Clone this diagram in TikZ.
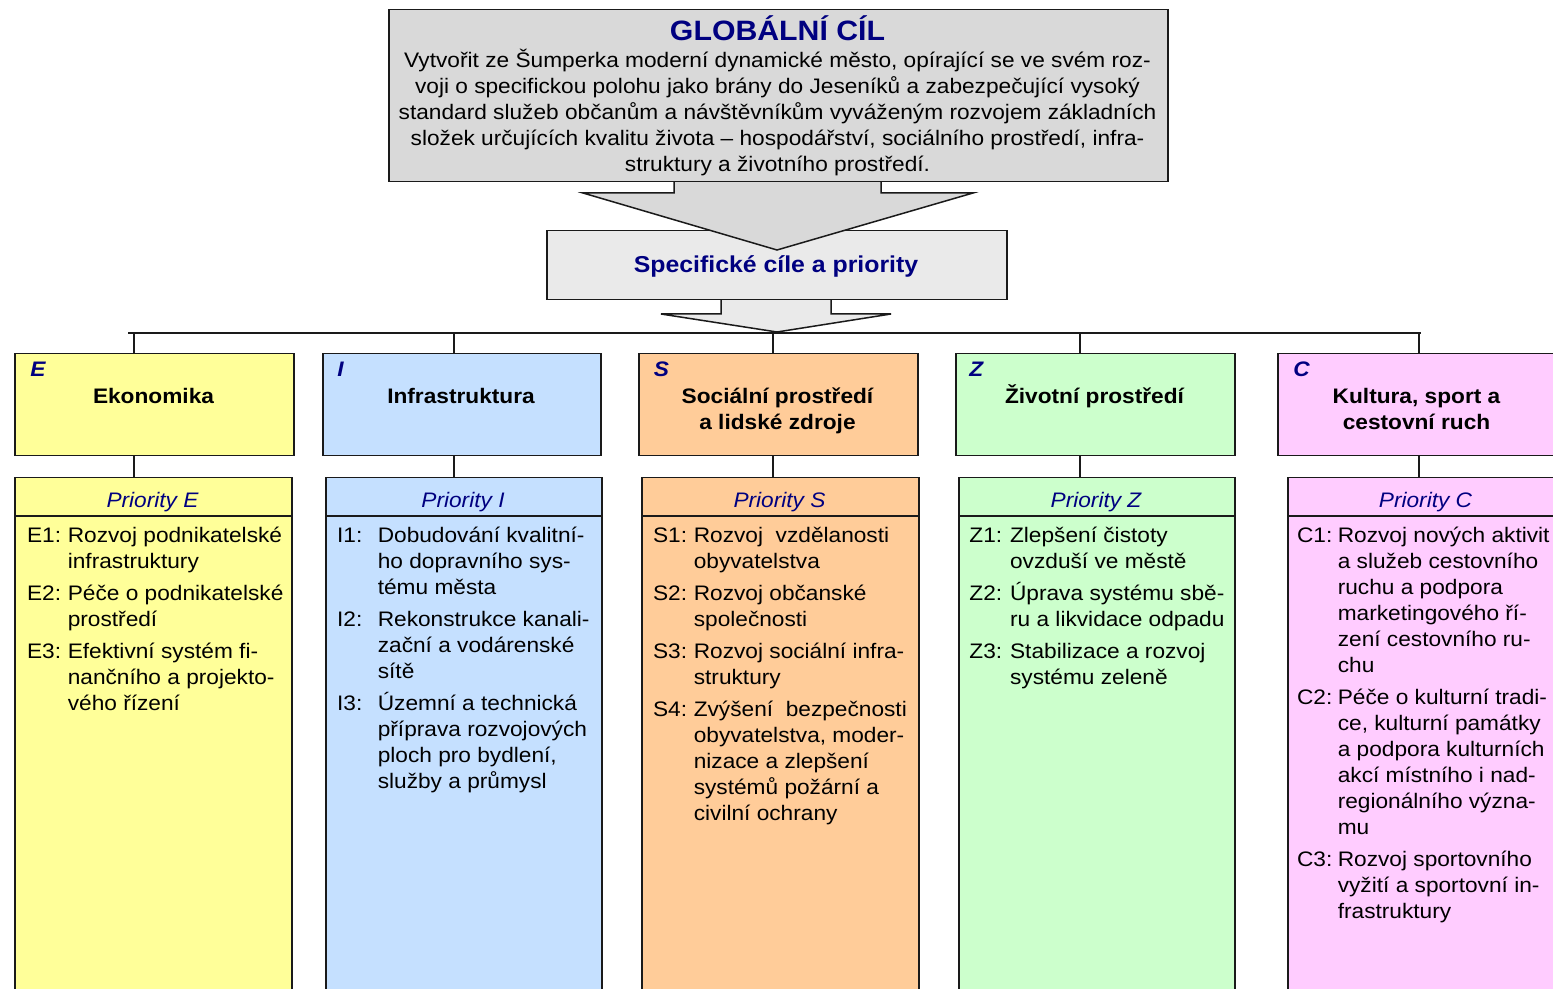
\documentclass[tikz,border=0pt]{standalone}
\usepackage{fontspec}
\setmainfont{Liberation Sans}[FakeStretch=1.08]
\usepackage{array}
\usetikzlibrary{calc}
\definecolor{cE}{HTML}{FFFF99}
\definecolor{cI}{HTML}{C5E0FF}
\definecolor{cS}{HTML}{FFCC99}
\definecolor{cZ}{HTML}{CCFFCC}
\definecolor{cC}{HTML}{FFCCFF}
\definecolor{gtop}{HTML}{D9D9D9}
\definecolor{gmid}{HTML}{EAEAEA}
\definecolor{navy}{HTML}{000080}
\definecolor{edge}{HTML}{1A1A1A}
\newcommand\mlines[1]{\begin{tabular}[t]{@{}c@{}}#1\end{tabular}}
\newcommand\itemlist[1]{\begin{tabular}[t]{@{}p{20.35pt}@{}l@{}}#1\end{tabular}}
\begin{document}
\begin{tikzpicture}[x=0.5pt,y=-0.5pt,
  box/.style={draw=edge,line width=0.75pt,inner sep=0pt,anchor=north west},
  conn/.style={draw=edge,line width=0.75pt},
  blockarrow/.style={draw=edge,line width=0.75pt},
  title/.style={inner sep=0pt,anchor=base,text=navy,font=\fontsize{14}{16}\selectfont\bfseries},
  body/.style={inner sep=0pt,anchor=base,font=\fontsize{10.5}{13}\selectfont},
  subtitle/.style={inner sep=0pt,anchor=base,text=navy,font=\fontsize{11.5}{14}\selectfont\bfseries},
  letter/.style={inner sep=0pt,anchor=base west,text=navy,font=\fontsize{10.5}{13}\selectfont\bfseries\itshape},
  head/.style={inner sep=0pt,anchor=base,font=\fontsize{10.5}{13}\selectfont\bfseries},
  prio/.style={inner sep=0pt,anchor=base,text=navy,font=\fontsize{10.5}{13}\selectfont\itshape},
  items/.style={inner sep=0pt,anchor=base west,font=\fontsize{10.5}{13}\selectfont}
]
\useasboundingbox (0,0) rectangle (1553,989);
\clip (0,0) rectangle (1553,989);
\fill[white] (0,0) rectangle (1553,989);

% lower block arrow (under the specific box)
\path[blockarrow,fill=gmid] (721,299) -- (721,314) -- (661,314) -- (777,332) -- (891,314) -- (831,314) -- (831,299);

% specific box
\node[box,fill=gmid,minimum width=230pt,minimum height=34.5pt] (spec) at (546,230) {};
\node[subtitle] (spectext) at (776,273) {Specifické cíle a priority};

% upper block arrow (over the specific box)
\path[blockarrow,fill=gtop] (674,181) -- (674,193) -- (583,193) -- (777,250) -- (973,193) -- (881,193) -- (881,181);

% global goal box
\node[box,fill=gtop,minimum width=389.5pt,minimum height=86pt] (goal) at (388,9) {};
\node[title] (goaltitle) at (777.5,41) {GLOBÁLNÍ CÍL};
\node[body] (goaltext) at (777.5,67.5) {\mlines{Vytvořit ze Šumperka moderní dynamické město, opírající se ve svém roz-\\
voji o specifickou polohu jako brány do Jeseníků a zabezpečující vysoký\\
standard služeb občanům a návštěvníkům vyváženým rozvojem základních\\
složek určujících kvalitu života – hospodářství, sociálního prostředí, infra-\\
struktury a životního prostředí.}};

% bus line
\coordinate (busL) at (128,333);
\coordinate (busR) at (1421,333);
\draw[conn] (busL) -- (busR);
\coordinate (dE) at (134,333);
\coordinate (dI) at (454,333);
\coordinate (dS) at (773,333);
\coordinate (dZ) at (1080,333);
\coordinate (dC) at (1419,333);

% ---------- column E ----------
\node[box,fill=cE,minimum width=139.5pt,minimum height=51pt] (E) at (14,353) {};
\node[box,fill=cE,minimum width=138.5pt,minimum height=262pt] (PE) at (14,477) {};
\draw[conn] ($(PE.north west)+(0,39)$) -- ($(PE.north east)+(0,39)$);
\draw[conn] (dE) -- (dE |- E.north);
\draw[conn] (E.south -| dE) -- (PE.north -| dE);
\node[letter] (Elet) at (30,376.5) {E};
\node[head] (Ename) at (153.5,404) {Ekonomika};
\node[prio] (Eprio) at (152.5,507.5) {Priority E};
\node[items] (Eitems) at (26.7,542.5) {\itemlist{E1: & Rozvoj podnikatelské\\ & infrastruktury\\[3pt]
E2: & Péče o podnikatelské\\ & prostředí\\[3pt]
E3: & Efektivní systém fi-\\ & nančního a projekto-\\ & vého řízení}};

% ---------- column I ----------
\node[box,fill=cI,minimum width=139pt,minimum height=51pt] (I) at (322,353) {};
\node[box,fill=cI,minimum width=138pt,minimum height=262pt] (PI) at (325,477) {};
\draw[conn] ($(PI.north west)+(0,39)$) -- ($(PI.north east)+(0,39)$);
\draw[conn] (dI) -- (dI |- I.north);
\draw[conn] (I.south -| dI) -- (PI.north -| dI);
\node[letter] (Ilet) at (337,376.5) {I};
\node[head] (Iname) at (461,404) {Infrastruktura};
\node[prio] (Iprio) at (463,507.5) {Priority I};
\node[items] (Iitems) at (336.7,542.5) {\itemlist{I1: & Dobudování kvalitní-\\ & ho dopravního sys-\\ & tému města\\[3pt]
I2: & Rekonstrukce kanali-\\ & zační a vodárenské\\ & sítě\\[3pt]
I3: & Územní a technická\\ & příprava rozvojových\\ & ploch pro bydlení,\\ & služby a průmysl}};

% ---------- column S ----------
\node[box,fill=cS,minimum width=139.5pt,minimum height=51pt] (S) at (638,353) {};
\node[box,fill=cS,minimum width=138.5pt,minimum height=262pt] (PS) at (641,477) {};
\draw[conn] ($(PS.north west)+(0,39)$) -- ($(PS.north east)+(0,39)$);
\draw[conn] (dS) -- (dS |- S.north);
\draw[conn] (S.south -| dS) -- (PS.north -| dS);
\node[letter] (Slet) at (653.5,376.5) {S};
\node[head] (Sname) at (777.5,404) {\mlines{Sociální prostředí\\a lidské zdroje}};
\node[prio] (Sprio) at (779.5,507.5) {Priority S};
\node[items] (Sitems) at (652.7,542.5) {\itemlist{S1: & Rozvoj\ \ vzdělanosti\\ & obyvatelstva\\[3pt]
S2: & Rozvoj občanské\\ & společnosti\\[3pt]
S3: & Rozvoj sociální infra-\\ & struktury\\[3pt]
S4: & Zvýšení\ \ bezpečnosti\\ & obyvatelstva, moder-\\ & nizace a zlepšení\\ & systémů požární a\\ & civilní ochrany}};

% ---------- column Z ----------
\node[box,fill=cZ,minimum width=139.5pt,minimum height=51pt] (Z) at (955,353) {};
\node[box,fill=cZ,minimum width=138pt,minimum height=262pt] (PZ) at (958,477) {};
\draw[conn] ($(PZ.north west)+(0,39)$) -- ($(PZ.north east)+(0,39)$);
\draw[conn] (dZ) -- (dZ |- Z.north);
\draw[conn] (Z.south -| dZ) -- (PZ.north -| dZ);
\node[letter] (Zlet) at (969,376.5) {Z};
\node[head] (Zname) at (1094.5,404) {Životní prostředí};
\node[prio] (Zprio) at (1096,507.5) {Priority Z};
\node[items] (Zitems) at (969,542.5) {\itemlist{Z1: & Zlepšení čistoty\\ & ovzduší ve městě\\[3pt]
Z2: & Úprava systému sbě-\\ & ru a likvidace odpadu\\[3pt]
Z3: & Stabilizace a rozvoj\\ & systému zeleně}};

% ---------- column C ----------
\node[box,fill=cC,minimum width=139.5pt,minimum height=51pt] (C) at (1277,353) {};
\node[box,fill=cC,minimum width=138.5pt,minimum height=262pt] (PC) at (1287,477) {};
\draw[conn] ($(PC.north west)+(0,39)$) -- ($(PC.north east)+(0,39)$);
\draw[conn] (dC) -- (dC |- C.north);
\draw[conn] (C.south -| dC) -- (PC.north -| dC);
\node[letter] (Clet) at (1293,376.5) {C};
\node[head] (Cname) at (1416.5,404) {\mlines{Kultura, sport a\\cestovní ruch}};
\node[prio] (Cprio) at (1425.5,507.5) {Priority C};
\node[items] (Citems) at (1296.7,542.5) {\itemlist{C1: & Rozvoj nových aktivit\\ & a služeb cestovního\\ & ruchu a podpora\\ & marketingového ří-\\ & zení cestovního ru-\\ & chu\\[3pt]
C2: & Péče o kulturní tradi-\\ & ce, kulturní památky\\ & a podpora kulturních\\ & akcí místního i nad-\\ & regionálního význa-\\ & mu\\[3pt]
C3: & Rozvoj sportovního\\ & vyžití a sportovní in-\\ & frastruktury}};
\end{tikzpicture}
\end{document}
